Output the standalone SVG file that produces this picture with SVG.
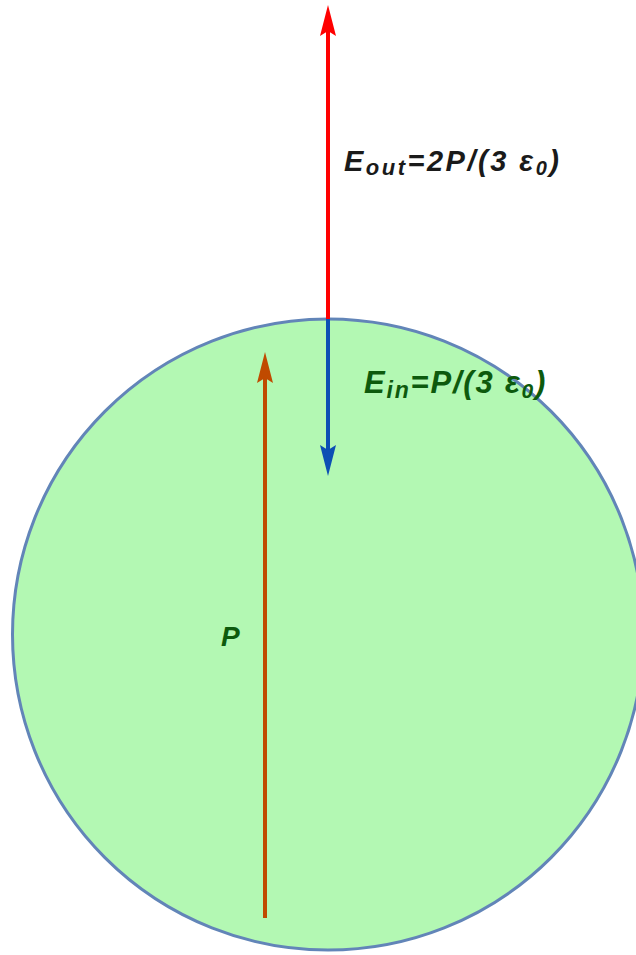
<svg xmlns="http://www.w3.org/2000/svg" width="636" height="955" viewBox="0 0 636 955">
<style>
.lbl{font-family:"Liberation Sans",Arial,sans-serif;font-weight:bold;font-style:italic;}
</style>
<rect width="636" height="955" fill="#ffffff"/>
<g id="sphere">
<circle cx="328" cy="634.5" r="315.5" fill="#b3f8b3" stroke="#6285b8" stroke-width="3"/>
</g>
<g id="connectors">
<line x1="328" y1="319" x2="328" y2="30" stroke="#ff0000" stroke-width="4"/>
<path d="M328 5 L336 36 L328 31 L320 36 Z" fill="#ff0000"/>
<line x1="328" y1="319" x2="328" y2="450" stroke="#0c4fb4" stroke-width="4"/>
<path d="M328 476 L336 445 L328 450 L320 445 Z" fill="#0c4fb4"/>
<line x1="265" y1="918" x2="265" y2="378" stroke="#c04a00" stroke-width="4"/>
<path d="M265 352 L273 383 L265 378 L257 383 Z" fill="#c04a00"/>
</g>
<g id="label-eout">
<text class="lbl" x="344" y="171" font-size="29" fill="#1a1a1a" letter-spacing="2.5">E<tspan font-size="22" dy="4">out</tspan><tspan dy="-4">=2P/(3 ε</tspan><tspan font-size="20" dy="4">0</tspan><tspan dy="-4">)</tspan></text>
</g>
<g id="label-ein">
<text class="lbl" x="364" y="393" font-size="31" fill="#0d5a0d" letter-spacing="1.8">E<tspan font-size="23" dy="5">in</tspan><tspan dy="-5">=P/(3 ε</tspan><tspan font-size="21" dy="5">0</tspan><tspan dy="-5">)</tspan></text>
</g>
<g id="label-p">
<text class="lbl" x="221" y="646" font-size="28" fill="#0d5a0d">P</text>
</g>
</svg>
